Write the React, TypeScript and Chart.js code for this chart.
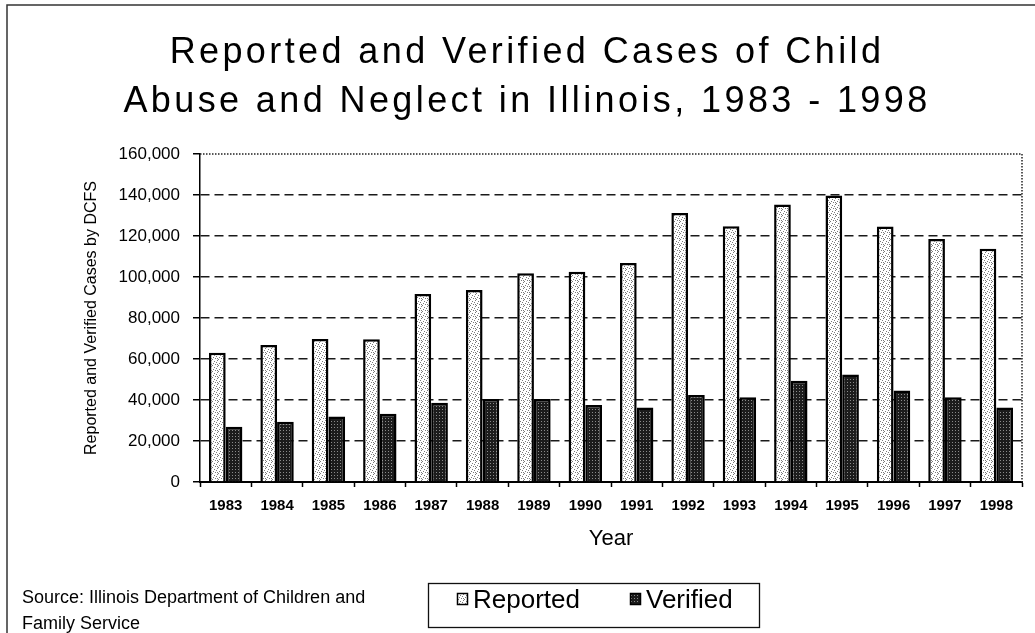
import React, { useEffect, useRef } from "react";
import { Chart, registerables } from "chart.js";

Chart.register(...registerables);

const TITLE_LINES = [
  "Reported and Verified Cases of Child",
  "Abuse and Neglect in Illinois, 1983 - 1998",
];
const YEARS = [
  "1983", "1984", "1985", "1986", "1987", "1988", "1989", "1990",
  "1991", "1992", "1993", "1994", "1995", "1996", "1997", "1998",
];
const REPORTED = [
  63000, 66800, 69800, 69600, 91700, 93700, 101800, 102600,
  106800, 131200, 124700, 135400, 139800, 124600, 118500, 113800,
];
const VERIFIED = [
  27000, 29400, 31900, 33300, 38700, 40500, 40500, 37600,
  36400, 42400, 41300, 49400, 52400, 44600, 41300, 36400,
];
const SERIES_LABELS = ["Reported", "Verified"];
const Y_MIN = 0;
const Y_MAX = 160000;
const Y_STEP = 20000;
const Y_AXIS_TITLE = "Reported and Verified Cases by DCFS";
const X_AXIS_TITLE = "Year";
const SOURCE_LINES = [
  "Source: Illinois Department of Children and",
  "Family Service",
];

const FONT = '"Liberation Sans", Arial, Helvetica, sans-serif';

function makePattern(bg: string, fg: string, size: number, dots: number[][]) {
  const c = document.createElement("canvas");
  c.width = size;
  c.height = size;
  const g = c.getContext("2d")!;
  g.fillStyle = bg;
  g.fillRect(0, 0, size, size);
  g.fillStyle = fg;
  dots.forEach(([x, y]) => g.fillRect(x, y, 1, 1));
  const ctx = document.createElement("canvas").getContext("2d")!;
  return ctx.createPattern(c, "repeat") as CanvasPattern;
}

export default function App() {
  const ref = useRef<HTMLCanvasElement | null>(null);

  useEffect(() => {
    if (!ref.current) return;
    const lightFill = makePattern("#ffffff", "#7a7a7a", 6, [
      [1, 0], [4, 1], [0, 2], [3, 3], [5, 4], [2, 5], [1, 4],
    ]);
    const darkFill = makePattern("#1c1c1c", "#8a8a8a", 3, [[1, 1]]);
    const fills = [lightFill, darkFill];

    const overlay = {
      id: "overlay",
      afterDraw(chart: any) {
        const { ctx, chartArea: a } = chart;
        ctx.save();
        // outer frame
        ctx.setLineDash([]);
        ctx.strokeStyle = "#333";
        ctx.lineWidth = 1.5;
        ctx.beginPath();
        ctx.moveTo(7, 633);
        ctx.lineTo(7, 5);
        ctx.lineTo(1035, 5);
        ctx.stroke();
        // dotted plot border (top & right)
        ctx.setLineDash([1.5, 1.5]);
        ctx.strokeStyle = "#222";
        ctx.lineWidth = 1.5;
        ctx.beginPath();
        ctx.moveTo(a.left, a.top);
        ctx.lineTo(a.right, a.top);
        ctx.lineTo(a.right, a.bottom);
        ctx.stroke();
        ctx.setLineDash([]);
        // title
        ctx.fillStyle = "#000";
        ctx.font = `36px ${FONT}`;
        ctx.textAlign = "center";
        ctx.textBaseline = "alphabetic";
        (ctx as any).letterSpacing = "3.4px";
        TITLE_LINES.forEach((t, i) => ctx.fillText(t, 527, 63 + i * 49));
        (ctx as any).letterSpacing = "0px";
        // source note
        ctx.font = `18px ${FONT}`;
        ctx.textAlign = "left";
        SOURCE_LINES.forEach((t, i) => ctx.fillText(t, 22, 603 + i * 26));
        // legend box
        ctx.strokeStyle = "#111";
        ctx.lineWidth = 1.3;
        ctx.strokeRect(428.5, 583.5, 331, 44);
        ctx.font = `26px ${FONT}`;
        const markerX = [457, 630];
        chart.data.datasets.forEach((ds: any, i: number) => {
          const x = markerX[i];
          ctx.fillStyle = ds.backgroundColor;
          ctx.fillRect(x, 593, 11, 12);
          ctx.strokeStyle = "#000";
          ctx.lineWidth = 1.5;
          ctx.strokeRect(x + 0.5, 593.5, 10, 11);
          ctx.fillStyle = "#000";
          ctx.fillText(ds.label, x + 16, 608);
        });
        ctx.restore();
      },
    };

    const chart = new Chart(ref.current, {
      type: "bar",
      data: {
        labels: YEARS,
        datasets: [
          {
            label: SERIES_LABELS[0],
            data: REPORTED,
            backgroundColor: fills[0] as any,
            borderColor: "#000",
            borderWidth: 2.5,
          },
          {
            label: SERIES_LABELS[1],
            data: VERIFIED,
            backgroundColor: fills[1] as any,
            borderColor: "#000",
            borderWidth: 2.5,
          },
        ],
      },
      options: {
        responsive: false,
        animation: false,
        devicePixelRatio: 1,
        layout: { padding: { top: 154, left: 7, right: 13, bottom: 71 } },
        datasets: {
          bar: { categoryPercentage: 0.65, barPercentage: 1 },
        },
        plugins: {
          legend: { display: false },
          title: { display: false },
          tooltip: { enabled: false },
        },
        scales: {
          x: {
            grid: {
              display: true,
              drawOnChartArea: false,
              drawTicks: true,
              tickLength: 5,
              offset: true,
              tickColor: "#000",
              tickWidth: 1.5,
            },
            border: { display: true, color: "#000", width: 2 },
            ticks: {
              color: "#000",
              font: { family: FONT, size: 15, weight: "bold" },
              padding: 10,
              maxRotation: 0,
              autoSkip: false,
            },
            title: {
              display: true,
              text: X_AXIS_TITLE,
              color: "#000",
              font: { family: FONT, size: 22 },
              padding: { top: 0, bottom: 10 },
            },
            afterFit: (s: any) => {
              s.height = 80;
            },
          },
          y: {
            min: Y_MIN,
            max: Y_MAX,
            grid: {
              color: (c: any) =>
                c.tick && (c.tick.value === Y_MIN || c.tick.value === Y_MAX)
                  ? "rgba(0,0,0,0)"
                  : "#1a1a1a",
              lineWidth: 1.5,
              tickLength: 7,
              tickColor: "#000",
              tickWidth: 1.5,
            },
            border: { display: true, color: "#000", width: 1.5, dash: [9, 5] },
            ticks: {
              stepSize: Y_STEP,
              color: "#000",
              font: { family: FONT, size: 17 },
              padding: 13,
              callback: (v: any) => Number(v).toLocaleString("en-US"),
            },
            title: {
              display: true,
              text: Y_AXIS_TITLE,
              color: "#000",
              font: { family: FONT, size: 16 },
              padding: { top: 75, bottom: 0 },
            },
            afterFit: (s: any) => {
              s.width = 193;
            },
          },
        },
      },
      plugins: [overlay],
    });
    return () => chart.destroy();
  }, []);

  return (
    <div
      style={{
        position: "fixed",
        left: 0,
        top: 0,
        width: 1035,
        height: 633,
        background: "#fff",
      }}
    >
      <canvas ref={ref} width={1035} height={633} style={{ display: "block" }} />
    </div>
  );
}
